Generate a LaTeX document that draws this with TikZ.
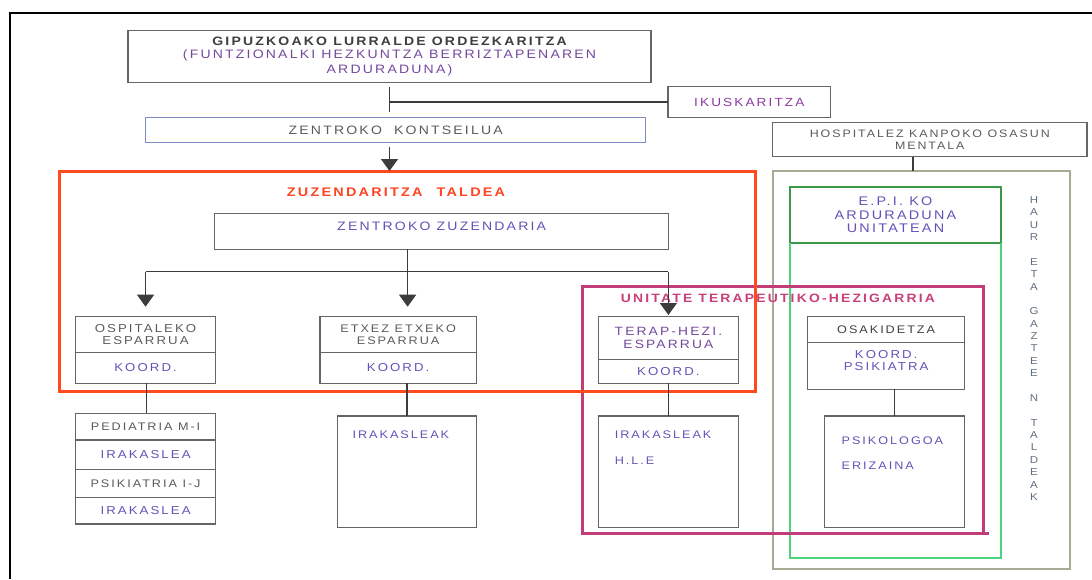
\documentclass[tikz,border=0pt]{standalone}
\usepackage{fontspec}
\setmainfont{Liberation Sans}[FakeStretch=1.15,LetterSpace=18]
\usetikzlibrary{arrows.meta}
\usetikzlibrary{positioning}

\definecolor{boxgray}{HTML}{666666}
\definecolor{linkgray}{HTML}{3C3C3C}
\definecolor{blueline}{HTML}{7E8CC2}
\definecolor{redline}{HTML}{FF4A1E}
\definecolor{purpleline}{HTML}{C23C78}
\definecolor{greenline}{HTML}{4FD27C}
\definecolor{darkgreen}{HTML}{3A9A4A}
\definecolor{oliveline}{HTML}{A9A994}
\definecolor{txtdark}{HTML}{3E3E3E}
\definecolor{txtgray}{HTML}{5A5A5A}
\definecolor{txtviolet}{HTML}{6650B8}
\definecolor{txtpurple}{HTML}{74489C}
\definecolor{txtmag}{HTML}{8A3AA0}
\definecolor{txtred}{HTML}{FF4422}
\definecolor{txtpink}{HTML}{C8407A}
\definecolor{txtteal}{HTML}{5F6F80}

\tikzset{
  box/.style={draw=boxgray, line width=1.3pt, inner sep=0pt, outer sep=0pt,
    align=center, text=txtgray, font=\fontsize{11}{12}\selectfont},
  koord/.style={box, text=txtviolet, font=\fontsize{11.5}{12.5}\selectfont},
  frame/.style={draw, inner sep=0pt, outer sep=0pt},
  lbl/.style={inner sep=0pt, text=txtviolet, font=\fontsize{11}{12}\selectfont},
  link/.style={draw=linkgray, line width=1.3pt},
  arr/.style={link, -{Triangle[width=17pt,length=12pt]}},
}

\begin{document}
\begin{tikzpicture}[x=1pt,y=-1pt]
      \useasboundingbox (0,0) rectangle (1092,579);
      \draw[line width=2pt] (1092,13.3) -- (10,13.3) -- (10,579);

      % frames
      \node[frame, draw=oliveline, line width=2.5pt, minimum width=297pt, minimum height=398pt] (haur) at (921.5,370) {};
      \node[box, draw=darkgreen, line width=2pt, minimum width=211pt, minimum height=55.7pt, text=txtviolet,
        font=\fontsize{12.5}{13.3}\selectfont] (epi) at (895.5,214.85) {E.P.I. KO\\ARDURADUNA\\UNITATEAN};
      \draw[greenline, line width=2pt] (epi.south west) -- (epi.south west |- 0,558) -- (epi.south east |- 0,558) -- (epi.south east);
      \node[frame, draw=purpleline, line width=3pt, minimum width=401pt, minimum height=247pt] (unitate) at (782.5,409.5) {};
      \draw[purpleline, line width=3pt] (unitate.south east) -- ++(6,0);
      \node[frame, draw=redline, line width=3pt, minimum width=696.7pt, minimum height=220pt] (taldea) at (407.35,281) {};

      \node[lbl, text=txtred, font=\bfseries\fontsize{12.5}{13}\selectfont] (taldeatitle) at (396,192.7) {ZUZENDARITZA\hspace{14pt}TALDEA};
      \node[lbl, text=txtpink, font=\bfseries\fontsize{12.1}{13}\selectfont] (unitatetitle) at (778,298.3) {UNITATE TERAPEUTIKO-HEZIGARRIA};
      \node[lbl, text=txtteal, align=center, font=\fontsize{10}{12.375}\selectfont] (haurtxt) at (1034,348.5)
        {H\\A\\U\\R\\~\\E\\T\\A\\~\\G\\A\\Z\\T\\E\\E\\~\\N\\~\\T\\A\\L\\D\\E\\A\\K};

      % top
      \node[box, text=txtpurple, minimum width=523pt, minimum height=52pt, font=\fontsize{12.2}{12.6}\selectfont] (gipuz) at (389.5,56.7)
        {{\bfseries\color{txtdark}GIPUZKOAKO LURRALDE ORDEZKARITZA}\\(FUNTZIONALKI HEZKUNTZA BERRIZTAPENAREN\\[3pt]ARDURADUNA)};
      \node[box, text=txtmag, minimum width=162.7pt, minimum height=30.6pt, font=\fontsize{11.8}{12}\selectfont] (ikus) at (749.3,102) {IKUSKARITZA};
      \node[box, draw=blueline, minimum width=500pt, minimum height=25.4pt, font=\fontsize{12.2}{13}\selectfont] (kontse) at (395.7,130)
        {ZENTROKO\ \ KONTSEILUA};
      \coordinate (tee) at (gipuz.south |- ikus.west);
      \draw[link] ([yshift=-4.3pt]gipuz.south) -- ([yshift=5.6pt]gipuz.south |- kontse.north);
      \draw[link] (tee) -- (ikus.west);
      \draw[arr] ([yshift=-4pt]gipuz.south |- kontse.south) -- (gipuz.south |- taldea.north);

      \node[box, text=txtviolet, minimum width=453.9pt, minimum height=36pt, text height=8.5pt, text depth=9.7pt,
        font=\fontsize{12.2}{13}\selectfont] (zuzen) at (441.65,231.3) {ZENTROKO ZUZENDARIA};
      \node[box, text=txtgray, minimum width=314.5pt, minimum height=34pt, font=\fontsize{10.8}{11.7}\selectfont] (hosp) at (929.75,139.7)
        {HOSPITALEZ KANPOKO OSASUN\\MENTALA};
      \draw[link] ([xshift=-16.75pt]hosp.south) -- ([xshift=-16.75pt]hosp.south |- haur.north);

      % esparruak
      \node[box, minimum width=140.3pt, minimum height=36pt, font=\fontsize{11.5}{12}\selectfont] (ospihead) at (145.55,334.7) {OSPITALEKO\\ESPARRUA};
      \node[koord, minimum width=140.3pt, minimum height=30.6pt, below=0pt of ospihead] (ospikoord) {KOORD.};
      \node[box, minimum width=156.3pt, minimum height=36pt] (etxehead) at (398.15,334.7) {ETXEZ ETXEKO\\ESPARRUA};
      \node[koord, minimum width=156.3pt, minimum height=30.6pt, below=0pt of etxehead] (etxekoord) {KOORD.};
      \node[box, text=txtpurple, minimum width=140pt, minimum height=42.6pt, font=\fontsize{12}{13}\selectfont] (teraphead) at (668.4,338)
        {TERAP-HEZI.\\ESPARRUA};
      \node[koord, minimum width=140pt, minimum height=24pt, below=0pt of teraphead] (terapkoord) {KOORD.};
      \node[box, text=txtdark, minimum width=157.3pt, minimum height=26pt] (osakhead) at (886.15,329.7) {OSAKIDETZA};
      \node[koord, minimum width=157.3pt, minimum height=46.6pt, text depth=11.5pt, below=0pt of osakhead] (osakkoord)
        {KOORD.\\PSIKIATRA};

      \coordinate (split) at (407.6,271.7);
      \draw[link] (split |- zuzen.south) -- (split);
      \draw[link] (ospihead.north |- split) -- (teraphead.north |- split);
      \draw[arr] (ospihead.north |- split) -- ([yshift=10pt]ospihead.north);
      \draw[arr] (split) -- ([yshift=10pt]split |- etxehead.north);
      \draw[arr] (teraphead.north |- split) -- ([yshift=1.7pt]teraphead.north);

      % lower boxes
      \node[box, minimum width=140.3pt, minimum height=26.7pt, anchor=north] (pedia) at (145.55,413.3) {PEDIATRIA M-I};
      \node[koord, minimum width=140.3pt, minimum height=29.3pt, below=0pt of pedia] (irakaslea1) {IRAKASLEA};
      \node[box, minimum width=140.3pt, minimum height=28pt, below=0pt of irakaslea1] (psiki) {PSIKIATRIA I-J};
      \node[koord, minimum width=140.3pt, minimum height=26.7pt, below=0pt of psiki] (irakaslea2) {IRAKASLEA};
      \draw[link] ([xshift=1pt]ospikoord.south) -- ([xshift=1pt]pedia.north);

      \node[box, minimum width=138.9pt, minimum height=111.3pt, anchor=north] (irakasleak1) at (406.85,416) {};
      \node[lbl, anchor=west] (irak1txt) at ([xshift=15pt,yshift=-19pt]irakasleak1.north west) {IRAKASLEAK};
      \draw[link] (irakasleak1.north |- etxekoord.south) -- (irakasleak1.north);

      \node[box, minimum width=140pt, minimum height=111.3pt, anchor=north] (irakasleak2) at (668.4,416) {};
      \node[lbl, anchor=west] (irak2txt) at ([xshift=16.2pt,yshift=-19pt]irakasleak2.north west) {IRAKASLEAK};
      \node[lbl, anchor=west] (hletxt) at ([xshift=16.2pt,yshift=-44.7pt]irakasleak2.north west) {H.L.E};
      \draw[link] (terapkoord.south) -- (irakasleak2.north);

      \node[box, minimum width=140pt, minimum height=111.3pt, anchor=north] (psiko) at (894.8,416) {};
      \node[lbl, anchor=west] (psikotxt) at ([xshift=16.6pt,yshift=-25pt]psiko.north west) {PSIKOLOGOA};
      \node[lbl, anchor=west] (erizaitxt) at ([xshift=16.6pt,yshift=-50pt]psiko.north west) {ERIZAINA};
      \draw[link] (psiko.north |- osakkoord.south) -- (psiko.north);
\end{tikzpicture}
\end{document}
